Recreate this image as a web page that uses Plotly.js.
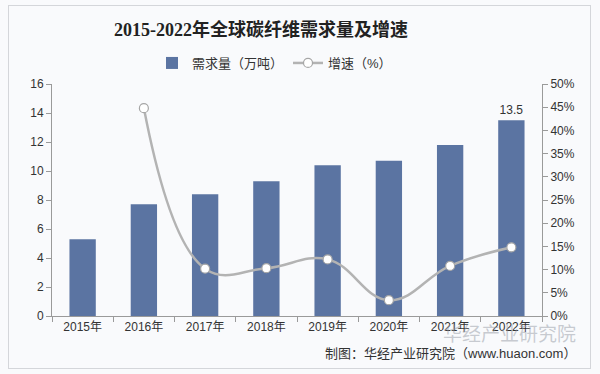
<!DOCTYPE html>
<html>
<head>
<meta charset="utf-8">
<script src="https://cdn.plot.ly/plotly-3.0.1.min.js"></script>
<style>
html,body{margin:0;padding:0;background:#ffffff;}
#wrap{position:relative;width:600px;height:374px;overflow:hidden;}
#chart{position:absolute;left:0;top:0;width:600px;height:374px;}
#frame{position:absolute;left:8px;top:5px;width:581px;height:362px;border:1px solid #d4d6da;pointer-events:none;}
</style>
</head>
<body>
<div id="wrap"><div id="chart"></div><div id="frame"></div></div>
<script>
const categories = ['2015年','2016年','2017年','2018年','2019年','2020年','2021年','2022年'];
const demand = [5.3, 7.7, 8.4, 9.3, 10.4, 10.7, 11.8, 13.5];
const growth = [null, 44.8, 10.2, 10.3, 12.2, 3.4, 10.8, 14.8];
const demandLabels = ['', '', '', '', '', '', '', '13.5'];

const FONT = '"Liberation Sans", Arial, "Noto Sans CJK SC", sans-serif';

// plot area in pixels
const L = 52, R = 542, T = 84, B = 316;
const px = v => (v - L) / (R - L);
const py = v => (B - v) / (B - T);

const traces = [
  {
    type: 'bar', name: '需求量（万吨）', x: categories, y: demand,
    marker: {color: '#5b74a2'}, width: 0.43,
    text: demandLabels, textposition: 'outside', cliponaxis: false, constraintext: 'none',
    textfont: {size: 12, color: '#333333', family: FONT},
    hoverinfo: 'x+y'
  },
  {
    type: 'scatter', mode: 'lines+markers', name: '增速（%）', x: categories, y: growth,
    yaxis: 'y2', connectgaps: false,
    line: {color: '#b3b3b3', width: 2.5, shape: 'spline', smoothing: 1.2},
    marker: {symbol: 'circle', size: 9, color: '#ffffff', line: {color: '#a6a6a6', width: 1.2}}
  }
];

const layout = {
  width: 600, height: 374,
  margin: {l: L, r: 600 - R, t: T, b: 374 - B},
  paper_bgcolor: '#f9fafc', plot_bgcolor: '#f9fafc',
  font: {family: FONT, size: 12, color: '#333333'},
  title: {
    text: '<b>2015-2022年全球碳纤维需求量及增速</b>',
    font: {family: '"Liberation Serif", "DejaVu Serif", "Noto Sans CJK SC", serif', size: 18, color: '#222222'},
    x: 261/600, xref: 'container', xanchor: 'center',
    y: 1 - 30/374, yref: 'container', yanchor: 'middle'
  },
  showlegend: true,
  legend: {
    orientation: 'h', xref: 'container', yref: 'container',
    x: 152/600, xanchor: 'left', y: 1 - 63/374, yanchor: 'middle',
    font: {size: 13, color: '#333333'}, bgcolor: 'rgba(0,0,0,0)',
    itemwidth: 30, tracegroupgap: 0
  },
  bargap: 0.57,
  xaxis: {
    type: 'category', showgrid: false, zeroline: false,
    showline: true, linecolor: '#9a9a9a', linewidth: 1,
    ticks: 'outside', tickson: 'boundaries', ticklen: 5, tickcolor: '#9a9a9a',
    tickfont: {size: 12, color: '#333333'}, tickangle: 0
  },
  yaxis: {
    range: [0, 16], dtick: 2, showgrid: false, zeroline: false,
    showline: true, linecolor: '#9a9a9a', linewidth: 1,
    ticks: 'outside', ticklen: 5, tickcolor: '#9a9a9a',
    tickfont: {size: 12, color: '#333333'}
  },
  yaxis2: {
    overlaying: 'y', side: 'right', range: [0, 50], dtick: 5, ticksuffix: '%',
    showgrid: false, zeroline: false,
    showline: true, linecolor: '#9a9a9a', linewidth: 1,
    ticks: 'outside', ticklen: 5, tickcolor: '#9a9a9a',
    tickfont: {size: 12, color: '#333333'}
  },
  annotations: [
    {
      text: '华经产业研究院', xref: 'paper', yref: 'paper',
      x: px(578), xanchor: 'right', y: py(332), yanchor: 'middle',
      showarrow: false, font: {size: 19, color: 'rgba(150,155,165,0.5)', family: '"Noto Sans CJK SC", sans-serif'}
    },
    {
      text: '制图：华经产业研究院（www.huaon.com）', xref: 'paper', yref: 'paper',
      x: px(578), xanchor: 'right', y: py(353), yanchor: 'middle',
      showarrow: false, font: {size: 13, color: '#333333'}
    }
  ]
};

Plotly.newPlot('chart', traces, layout, {displayModeBar: false, staticPlot: true});
</script>
</body>
</html>
